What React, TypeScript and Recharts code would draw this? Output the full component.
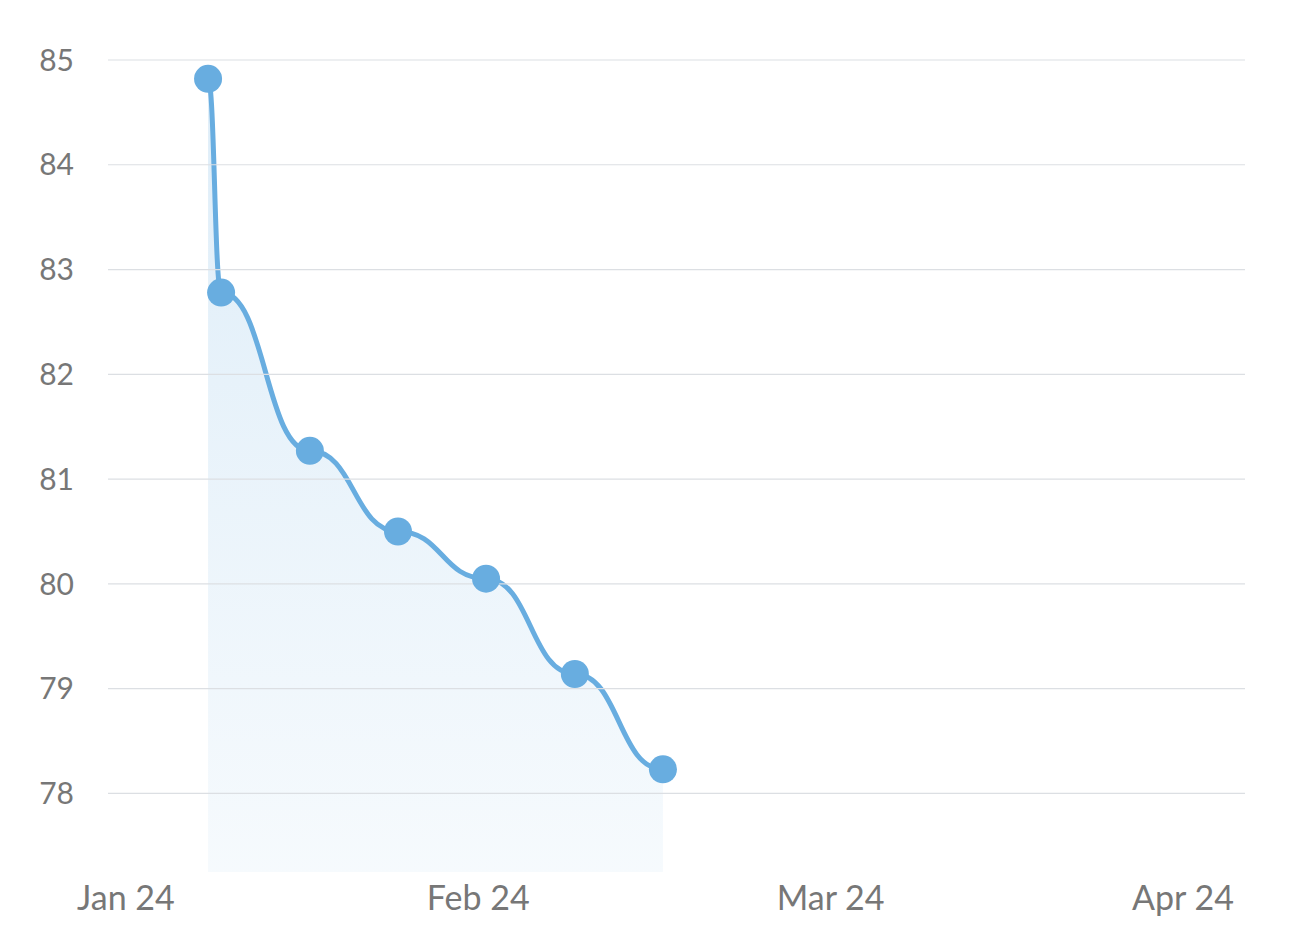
import { Area, AreaChart, ReferenceLine, XAxis, YAxis } from "recharts";

// x = position in months from Jan 24, y = value
const monthLabels = ["Jan 24", "Feb 24", "Mar 24", "Apr 24"];
const monthTicks = [0, 1, 2, 3];
const xPositions = [0.233, 0.27, 0.522, 0.772, 1.022, 1.274, 1.524];
const values = [84.82, 82.78, 81.27, 80.5, 80.05, 79.14, 78.23];
const yTicks = [78, 79, 80, 81, 82, 83, 84, 85];

const data = xPositions.map((x, i) => ({ x, value: values[i] }));

const BLUE = "#68ADE0";
const FONT = "Lato, 'Open Sans', sans-serif";

export default function App() {
  return (
    <div style={{ position: "absolute", left: 0, top: 0, background: "#fff" }}>
      <AreaChart
        width={1290}
        height={940}
        data={data}
        margin={{ top: 60, right: 45, left: 0, bottom: 0 }}
      >
        <defs>
          <linearGradient id="fillBlue" x1="0" y1="0" x2="0" y2="1">
            <stop offset="0%" stopColor={BLUE} stopOpacity={0.22} />
            <stop offset="100%" stopColor={BLUE} stopOpacity={0.06} />
          </linearGradient>
        </defs>
        {/* horizontal gridlines only on the y ticks */}
        {yTicks.map((t) => (
          <ReferenceLine
            key={t}
            y={t}
            stroke="#dcdfe3"
            strokeWidth={1.2}
            ifOverflow="extendDomain"
          />
        ))}
        <XAxis
          dataKey="x"
          type="number"
          domain={[-0.051, 3.176]}
          ticks={monthTicks}
          tickFormatter={(v: number) => monthLabels[v]}
          axisLine={false}
          tickLine={false}
          tickMargin={8}
          height={68}
          tick={{ fontSize: 34, fill: "#777777", fontFamily: FONT }}
        />
        <YAxis
          type="number"
          domain={[77.25, 85]}
          ticks={yTicks}
          axisLine={false}
          tickLine={false}
          tickMargin={28}
          width={108}
          tick={{ fontSize: 30, fill: "#777777", fontFamily: FONT }}
        />
        <Area
          type="bumpX"
          dataKey="value"
          stroke={BLUE}
          strokeWidth={5}
          fill="url(#fillBlue)"
          fillOpacity={1}
          dot={{ r: 14, fill: BLUE, stroke: "none", fillOpacity: 1 }}
          activeDot={false}
          isAnimationActive={false}
        />
      </AreaChart>
    </div>
  );
}
